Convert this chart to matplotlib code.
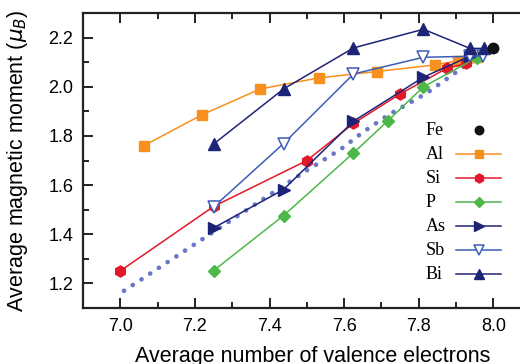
import matplotlib
matplotlib.use("Agg")
import matplotlib.pyplot as plt
from matplotlib.ticker import MultipleLocator

plt.rcParams["font.family"] = ["Liberation Sans", "DejaVu Sans"]
plt.rcParams["mathtext.fontset"] = "dejavusans"

# values
fe_x = [8.0]
fe_y = [2.158]

al_x = [7.0625, 7.21875, 7.375, 7.53125, 7.6875, 7.84375, 7.90625, 7.95625]
al_y = [1.760, 1.886, 1.991, 2.036, 2.062, 2.089, 2.106, 2.120]

si_x = [7.0, 7.25, 7.5, 7.625, 7.75, 7.875, 7.9275]
si_y = [1.251, 1.513, 1.700, 1.851, 1.971, 2.075, 2.095]

p_x = [7.25, 7.4375, 7.625, 7.7175, 7.8125, 7.955]
p_y = [1.252, 1.476, 1.731, 1.862, 2.000, 2.118]

as_x = [7.25, 7.4375, 7.625, 7.8125, 7.9375]
as_y = [1.426, 1.582, 1.860, 2.039, 2.125]

sb_x = [7.25, 7.4375, 7.625, 7.8125, 7.9375, 7.9725]
sb_y = [1.511, 1.769, 2.052, 2.120, 2.124, 2.127]

bi_x = [7.25, 7.4375, 7.625, 7.8125, 7.9375, 7.975]
bi_y = [1.767, 1.991, 2.158, 2.234, 2.156, 2.156]

dot_x = [7.01, 7.22, 7.40, 7.50, 7.59, 7.65, 7.72, 7.82, 7.91, 7.97]
dot_y = [1.170, 1.380, 1.560, 1.660, 1.745, 1.815, 1.887, 1.973, 2.070, 2.130]

series = [
    ("Fe", fe_x, fe_y, dict(color="#111111", lw=0, marker="o", ms=7.5)),
    ("Al", al_x, al_y, dict(color="#f7901e", marker="s", ms=7)),
    ("Si", si_x, si_y, dict(color="#e3192a", marker="h", ms=8)),
    ("P", p_x, p_y, dict(color="#4db848", marker="D", ms=6)),
    ("As", as_x, as_y, dict(color="#1d2478", marker=">", ms=8)),
    ("Sb", sb_x, sb_y, dict(color="#3d5cb8", marker="v", ms=8,
                            markerfacecolor="white", markeredgewidth=1.1)),
    ("Bi", bi_x, bi_y, dict(color="#1d2478", marker="^", ms=8)),
]
zorders = {"Fe": 6, "Al": 3, "Si": 3, "P": 3, "As": 4, "Sb": 4, "Bi": 5}

fig = plt.figure(figsize=(5.2, 3.64), dpi=100)
ax = fig.add_axes([0.1596, 0.1538, 0.861, 0.8104])

ax.plot(dot_x, dot_y, color="#6b77c6", lw=3.4,
        linestyle=(0, (0.01, 2.2)), dash_capstyle="round", zorder=1)

for name, xs, ys, st in series:
    kw = dict(lw=1.1)
    kw.update(st)
    ax.plot(xs, ys, zorder=zorders[name], **kw)

# legend drawn by hand: text on the left, handle on the right
row_y0, row_dy = 0.603, 0.0814
for i, (name, xs, ys, st) in enumerate(series):
    y = row_y0 - i * row_dy
    ax.text(0.766, y, name, transform=ax.transAxes, ha="left", va="center",
            fontsize=13, family="Liberation Serif")
    kw = dict(lw=1.1)
    kw.update(st)
    if kw["lw"] > 0:
        ax.plot([0.8342, 0.9347], [y, y], transform=ax.transAxes,
                clip_on=False, color=kw["color"], lw=kw["lw"], zorder=5)
    mk = {k: v for k, v in kw.items() if k not in ("lw", "ms")}
    ax.plot([0.8845], [y], transform=ax.transAxes, clip_on=False,
            linestyle="none", ms=kw["ms"] * 0.82, zorder=6, **mk)

ax.set_xlim(6.9, 8.1)
ax.set_ylim(1.1, 2.3)
ax.xaxis.set_major_locator(MultipleLocator(0.2))
ax.xaxis.set_minor_locator(MultipleLocator(0.1))
ax.yaxis.set_major_locator(MultipleLocator(0.2))
ax.yaxis.set_minor_locator(MultipleLocator(0.1))
ax.xaxis.set_major_formatter(lambda v, p: "%.1f" % v)
ax.yaxis.set_major_formatter(lambda v, p: "%.1f" % v)

ax.tick_params(which="both", direction="in", top=True, right=True,
               width=1.4, labelsize=13, color="#222222")
ax.tick_params(which="major", length=7, pad=7)
ax.tick_params(which="minor", length=4)
for s in ax.spines.values():
    s.set_linewidth(1.6)
    s.set_color("#222222")

ax.set_xlabel("Average number of valence electrons", fontsize=15.5)
ax.set_ylabel(r"Average magnetic moment ($\mu_B$)", fontsize=15.5)
ax.xaxis.set_label_coords(0.514, -0.13)
ax.yaxis.set_label_coords(-0.118, 0.5)

fig.savefig("out.png", dpi=100)
